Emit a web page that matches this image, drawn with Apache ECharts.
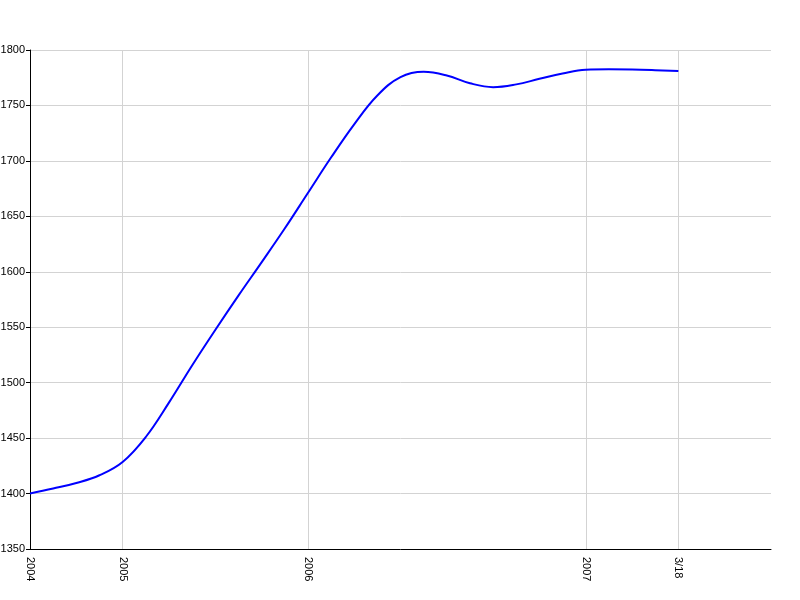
<!DOCTYPE html>
<html>
<head>
<meta charset="utf-8">
<script src="https://cdn.jsdelivr.net/npm/echarts@6/dist/echarts.min.js"></script>
<style>html,body{margin:0;padding:0;background:#fff;}#c{width:800px;height:600px;}</style>
</head>
<body>
<div id="c"></div>
<script>
// x slots: four per labelled step; labels only at some slots
const tickLabels = { 0: '2004', 4: '2005', 12: '2006', 24: '2007', 28: '3/18' };
const slotCount = 33;
const categories = Array.from({ length: slotCount }, (_, i) => tickLabels[i] || '');
const values = [
  1400, 1404.5, 1409.5, 1416.5, 1428.5,
  1451, 1482, 1515.5, 1547.5,
  1578.5, 1608.5, 1639, 1671,
  1703, 1733, 1759, 1775.5,
  1780.3, 1777, 1770, 1766.5,
  1769, 1774, 1778.8, 1782.2,
  1782.6, 1782.4, 1781.8, 1781
];
const yTicks = { min: 1350, max: 1800, interval: 50 };

const chart = echarts.init(document.getElementById('c'), null, { renderer: 'canvas' });
const showLabel = (idx, val) => val !== '';
chart.setOption({
  animation: false,
  grid: { left: 30, right: 29, top: 50, bottom: 51, containLabel: false, outerBoundsMode: 'none' },
  xAxis: {
    type: 'category',
    data: categories,
    boundaryGap: false,
    axisLine: { lineStyle: { color: '#000', width: 1 } },
    axisTick: { show: false },
    axisLabel: {
      interval: showLabel,
      rotate: -90,
      margin: 8,
      color: '#000',
      fontFamily: 'Liberation Sans, Arial, sans-serif',
      fontSize: 11
    },
    splitLine: { show: true, interval: showLabel, lineStyle: { color: '#d3d3d3', width: 1 } }
  },
  yAxis: {
    type: 'value',
    min: yTicks.min,
    max: yTicks.max,
    interval: yTicks.interval,
    axisLine: { show: true, lineStyle: { color: '#000', width: 1 } },
    axisTick: { show: true, length: 4, lineStyle: { color: '#000' } },
    axisLabel: {
      margin: 5,
      color: '#000',
      fontFamily: 'Liberation Sans, Arial, sans-serif',
      fontSize: 11,
      formatter: v => String(v)
    },
    splitLine: { show: true, lineStyle: { color: '#d3d3d3', width: 1 } }
  },
  series: [{
    type: 'line',
    data: values,
    smooth: 0.4,
    showSymbol: false,
    lineStyle: { color: '#0000ff', width: 2 },
    itemStyle: { color: '#0000ff' }
  }]
});
</script>
</body>
</html>
